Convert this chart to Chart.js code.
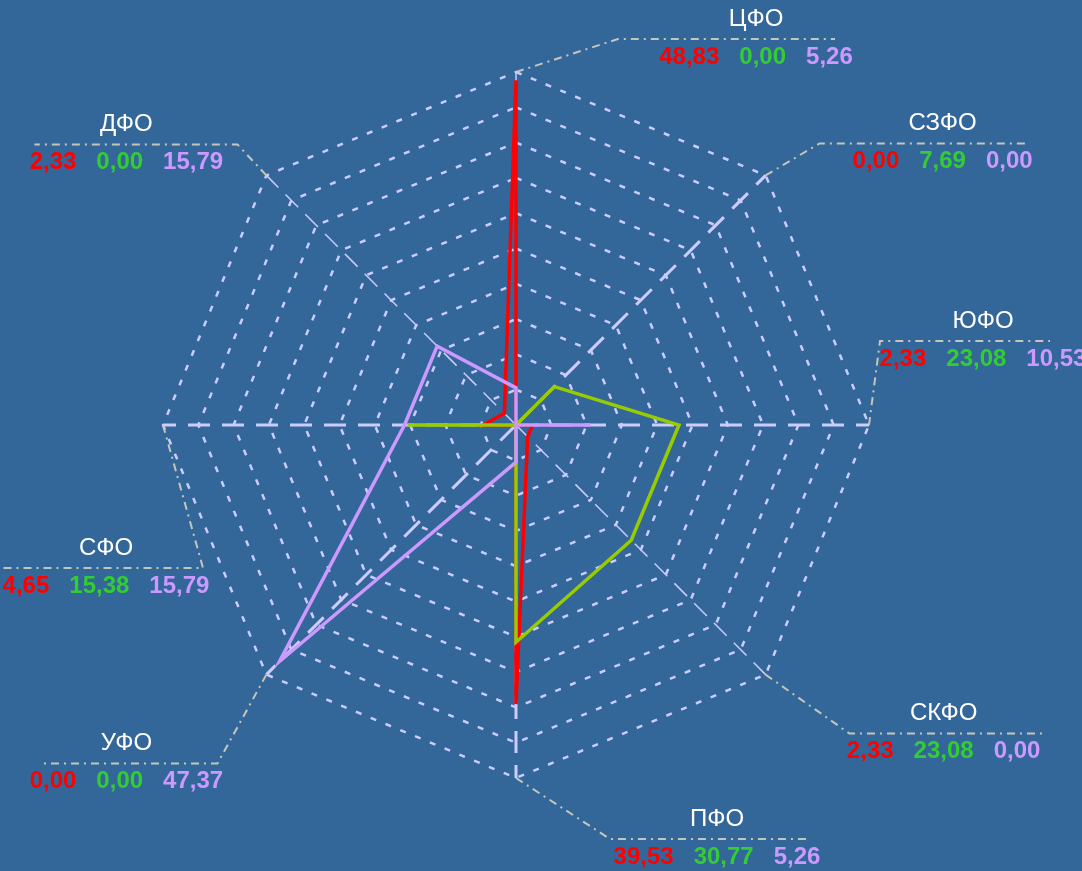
<!DOCTYPE html>
<html>
<head>
<meta charset="utf-8">
<script src="https://cdn.jsdelivr.net/npm/chart.js@4"></script>
<style>
  html, body { margin: 0; padding: 0; background: #346799; }
  #wrap { width: 1082px; height: 871px; position: relative; }
</style>
</head>
<body>
<div id="wrap"><canvas id="radarChart"></canvas></div>
<script>
const labels = ["ЦФО", "СЗФО", "ЮФО", "СКФО", "ПФО", "УФО", "СФО", "ДФО"];
const redValues = [48.83, 0.00, 2.33, 2.33, 39.53, 0.00, 4.65, 2.33];
const greenValues = [0.00, 7.69, 23.08, 23.08, 30.77, 0.00, 15.38, 0.00];
const purpleValues = [5.26, 0.00, 10.53, 0.00, 5.26, 47.37, 15.79, 15.79];

const textColors = ['#ff0000', '#33cc33', '#cc99ff'];

// leader line layout: elbow offset from the outer vertex, horizontal line length, text centre offset from elbow
const leaders = [
  { dx: 102, dy: -33, len: 217, tx: 138 },
  { dx: 54, dy: -32, len: 207, tx: 123 },
  { dx: 11, dy: -84, len: 170, tx: 103 },
  { dx: 84, dy: 59, len: 193, tx: 94 },
  { dx: 94, dy: 61, len: 200, tx: 107 },
  { dx: -49, dy: 89, len: -175, tx: -91 },
  { dx: 40, dy: 143, len: -203, tx: -97 },
  { dx: -29, dy: -31, len: -203, tx: -111 }
];

const fmt = v => v.toFixed(2).replace('.', ',');

const labelPlugin = {
  id: 'leaderLabels',
  afterDraw(chart) {
    const c = chart.ctx;
    const r = chart.scales.r;
    const all = [redValues, greenValues, purpleValues];
    labels.forEach((name, i) => {
      const p = r.getPointPosition(i, r.drawingArea);
      const L = leaders[i];
      const ex = p.x + L.dx, ey = p.y + L.dy;
      c.save();
      c.strokeStyle = 'rgba(205,202,190,0.95)';
      c.lineWidth = 2;
      c.setLineDash([8, 5, 2, 5]);
      c.beginPath();
      c.moveTo(p.x, p.y);
      c.lineTo(ex, ey);
      c.lineTo(ex + L.len, ey);
      c.stroke();
      c.setLineDash([]);

      const cx = ex + L.tx;
      c.textBaseline = 'middle';
      c.textAlign = 'center';
      c.fillStyle = '#ffffff';
      c.font = '24px "Liberation Sans", Arial, sans-serif';
      c.fillText(name, cx, ey - 20);

      c.font = 'bold 24px "Liberation Sans", Arial, sans-serif';
      const texts = all.map(a => fmt(a[i]));
      const gap = 20;
      const widths = texts.map(t => c.measureText(t).width);
      const total = widths.reduce((s, w) => s + w, 0) + gap * 2;
      let x = cx - total / 2;
      c.textAlign = 'left';
      texts.forEach((t, k) => {
        c.fillStyle = textColors[k];
        c.fillText(t, x, ey + 18);
        x += widths[k] + gap;
      });
      c.restore();
    });
  }
};

const thinLines = [0, 3, 7];

new Chart(document.getElementById('radarChart'), {
  type: 'radar',
  data: {
    labels: labels,
    datasets: [
      { label: 'red', data: redValues, borderColor: '#ff0000', borderWidth: 3.5, fill: false, pointRadius: 0, order: 3 },
      { label: 'green', data: greenValues, borderColor: '#99cc00', borderWidth: 3.5, fill: false, pointRadius: 0, order: 2 },
      { label: 'purple', data: purpleValues, borderColor: '#cc99ff', borderWidth: 3.5, fill: false, pointRadius: 0, order: 1 }
    ]
  },
  options: {
    responsive: true,
    maintainAspectRatio: false,
    animation: false,
    layout: { padding: { left: 163, right: 213, top: 72, bottom: 93 } },
    scales: {
      r: {
        min: 0,
        max: 50,
        ticks: { display: false, stepSize: 5 },
        pointLabels: { display: false },
        grid: {
          color: '#ccccff',
          lineWidth: 2.5
        },
        border: {
          dash: [6, 10]
        },
        angleLines: {
          color: '#ccccff',
          lineWidth: ctx => thinLines.includes(ctx.index) ? 1.5 : 3,
          borderDash: ctx => thinLines.includes(ctx.index) ? [18, 10] : [22, 12]
        }
      }
    },
    plugins: {
      legend: { display: false },
      tooltip: { enabled: false }
    }
  },
  plugins: [labelPlugin]
});
</script>
</body>
</html>
